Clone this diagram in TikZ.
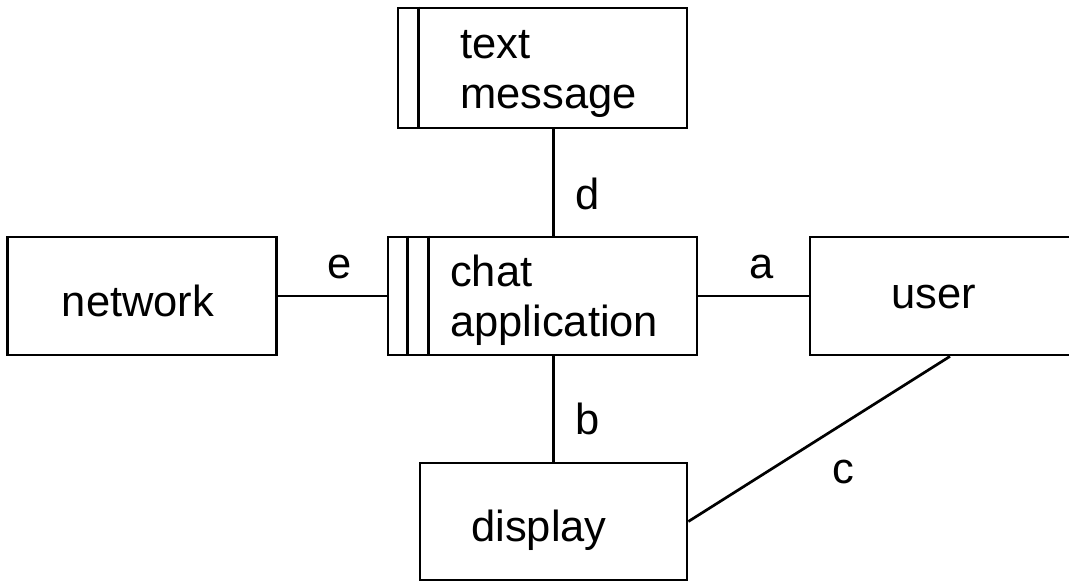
\documentclass[tikz,border=0pt]{standalone}
\usepackage{fontspec}
\setmainfont{Liberation Sans}
\begin{document}
\begin{tikzpicture}[x=1pt,y=-1pt,
  box/.style={draw,line width=2.7pt,rectangle,inner sep=0pt},
  conn/.style={line width=2.7pt},
  txt/.style={font=\fontsize{43.5}{50}\selectfont,inner sep=0pt},
  lbl/.style={font=\fontsize{43.5}{50}\selectfont,inner sep=0pt}]
\useasboundingbox (0,0) rectangle (1069,583);
\clip (0,0) rectangle (1069,583);
% boxes
\node[box,minimum width=289pt,minimum height=120pt] (tm) at (542.5,68) {};
\draw[conn] ([xshift=22pt]tm.north west) -- ([xshift=22pt]tm.south west);
\node[txt,anchor=west,align=left] (tmt) at (460,74) {text\\message};

\node[box,minimum width=309pt,minimum height=118pt] (chat) at (542.5,296) {};
\draw[conn] ([xshift=21pt]chat.north west) -- ([xshift=21pt]chat.south west);
\draw[conn] ([xshift=42pt]chat.north west) -- ([xshift=42pt]chat.south west);
\node[txt,anchor=west,align=left] (chatt) at (450,300) {chat\\application};

\node[box,minimum width=269pt,minimum height=118pt] (net) at (142,296) {};
\node[txt] (nett) at (138,301) {network};
\node[box,minimum width=280pt,minimum height=118pt] (user) at (950,296) {};
\node[txt] (usert) at (934,297) {user};
\node[box,minimum width=267pt,minimum height=117pt] (disp) at (553.5,521.5) {};
\node[txt] (dispt) at (539,530) {display};

% connectors
\draw[conn] (tm.south -| disp.north) -- (chat.north -| disp.north);
\draw[conn] (chat.south -| disp.north) -- (disp.north);
\draw[conn] (net.east) -- (chat.west);
\draw[conn] (chat.east) -- (user.west);
\draw[conn] (user.south) -- (disp.east);

% labels
\node[lbl] (ld) at (588,194) {d};
\node[lbl] (le) at (340,267) {e};
\node[lbl] (la) at (762,267) {a};
\node[lbl] (lb) at (588,419) {b};
\node[lbl] (lc) at (843,472) {c};
\end{tikzpicture}
\end{document}
